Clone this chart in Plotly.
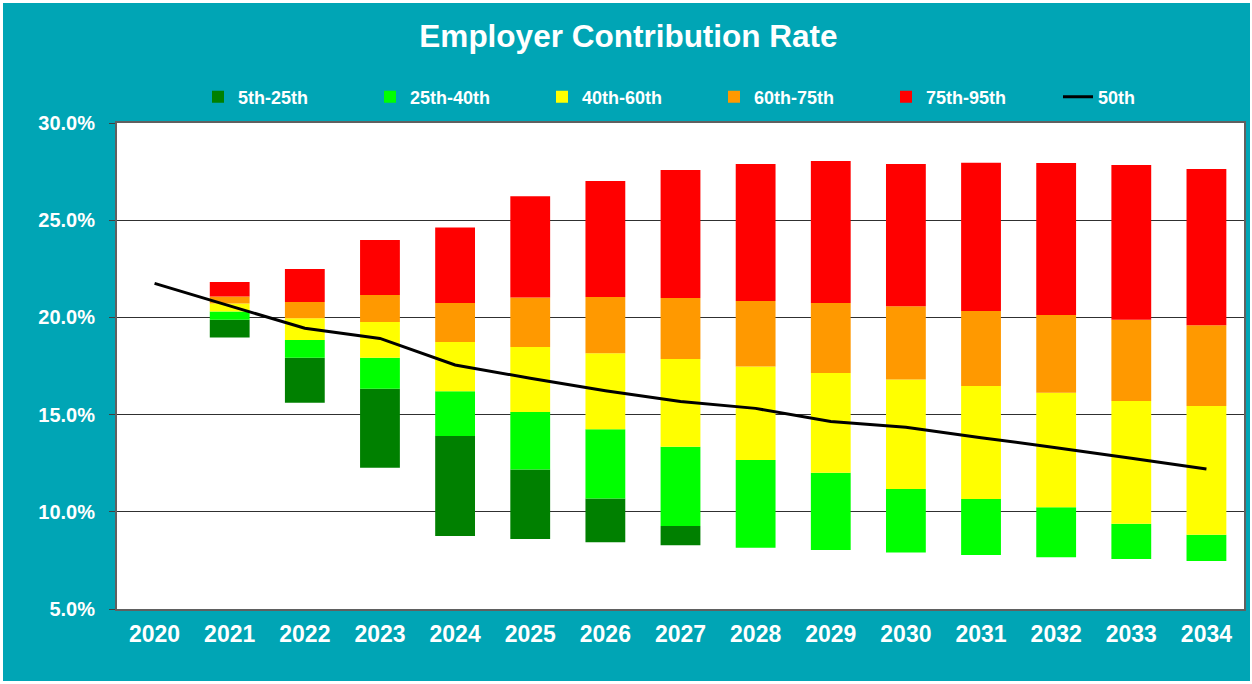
import plotly.graph_objects as go

years = [str(y) for y in range(2020, 2035)]

# percentile values in %, 2020 has no distribution (only the median)
p5 = [None, 18.97, 15.61, 12.27, 8.76, 8.60, 8.43, 8.28, 8.15, 8.03, 7.90, 7.78, 7.66, 7.57, 7.47]
p25 = [None, 19.88, 17.93, 16.33, 13.90, 12.17, 10.69, 9.27, 8.15, 8.03, 7.90, 7.78, 7.66, 7.57, 7.47]
p40 = [None, 20.30, 18.84, 17.93, 16.20, 15.13, 14.24, 13.35, 12.66, 12.01, 11.17, 10.66, 10.23, 9.39, 8.82]
p60 = [None, 20.72, 19.95, 19.76, 18.73, 18.48, 18.15, 17.86, 17.47, 17.14, 16.81, 16.47, 16.13, 15.70, 15.44]
p75 = [None, 21.08, 20.79, 21.15, 20.74, 21.03, 21.05, 21.00, 20.84, 20.74, 20.57, 20.33, 20.12, 19.88, 19.59]
p95 = [None, 21.82, 22.49, 23.98, 24.63, 26.23, 27.02, 27.58, 27.89, 28.05, 27.89, 27.96, 27.94, 27.84, 27.63]
p50 = [21.75, 20.60, 19.44, 18.92, 17.55, 16.87, 16.23, 15.67, 15.32, 14.64, 14.35, 13.81, 13.30, 12.75, 12.20]

bands = [
    ("5th-25th", p5, p25, "#008000"),
    ("25th-40th", p25, p40, "#00FF00"),
    ("40th-60th", p40, p60, "#FFFF00"),
    ("60th-75th", p60, p75, "#FF9900"),
    ("75th-95th", p75, p95, "#FF0000"),
]

TEAL = "#00A5B5"
FONT = "Liberation Sans, Arial, sans-serif"

fig = go.Figure()

for name, lo, hi, color in bands:
    height = [None if a is None else b - a for a, b in zip(lo, hi)]
    fig.add_trace(go.Bar(
        name=name, x=years, y=height, base=lo,
        marker=dict(color=color, line=dict(width=0)),
        width=0.53,
    ))

fig.add_trace(go.Scatter(
    name="50th", x=years, y=p50, mode="lines",
    line=dict(color="black", width=3),
))

# white outer frame + teal panel + white plot area
W, H = 1252, 684
L, R, T, B = 117, 1244, 123, 609


def px(x):
    return (x - L) / (R - L)


def py(y):
    return (B - y) / (B - T)


fig.add_shape(type="rect", xref="paper", yref="paper", layer="below",
              x0=px(3), x1=px(1250), y0=py(681), y1=py(3),
              fillcolor=TEAL, line=dict(width=0))
fig.add_shape(type="rect", xref="paper", yref="paper", layer="below",
              x0=0, x1=1, y0=0, y1=1,
              fillcolor="white", line=dict(width=0))

fig.update_layout(
    width=W, height=H,
    paper_bgcolor="white",
    plot_bgcolor="white",
    barmode="overlay",
    font=dict(family=FONT, color="white"),
    title=dict(text="Employer Contribution Rate", x=0.502, xanchor="center",
               yref="container", y=1 - 36 / H, yanchor="middle",
               font=dict(size=31.5, weight="bold", color="white")),
    legend=dict(orientation="h", x=px(198), xanchor="left", y=py(97), yanchor="middle",
                font=dict(size=18, weight="bold", color="white"),
                bgcolor="rgba(0,0,0,0)", entrywidth=127, entrywidthmode="pixels",
                itemwidth=30),
    margin=dict(l=L, r=W - R, t=T, b=H - B, autoexpand=False),
)

fig.update_xaxes(
    type="category", range=[-0.5, 14.5], automargin=False,
    showline=True, mirror=True, linecolor="#606060", linewidth=2,
    showgrid=False, ticks="", ticklabelstandoff=3,
    tickfont=dict(size=23, weight="bold", color="white"),
)
fig.update_yaxes(
    range=[5, 30], dtick=5, tickformat=".1f", ticksuffix="%", automargin=False,
    showline=True, mirror=True, linecolor="#606060", linewidth=2,
    showgrid=True, gridcolor="#303030", gridwidth=1,
    ticks="outside", ticklen=6, tickcolor="#404040", ticklabelstandoff=10,
    tickfont=dict(size=20, weight="bold", color="white"),
    zeroline=False,
)

fig.write_html("out.html", config={"displayModeBar": False},
               post_script="document.body.style.margin='0';")
